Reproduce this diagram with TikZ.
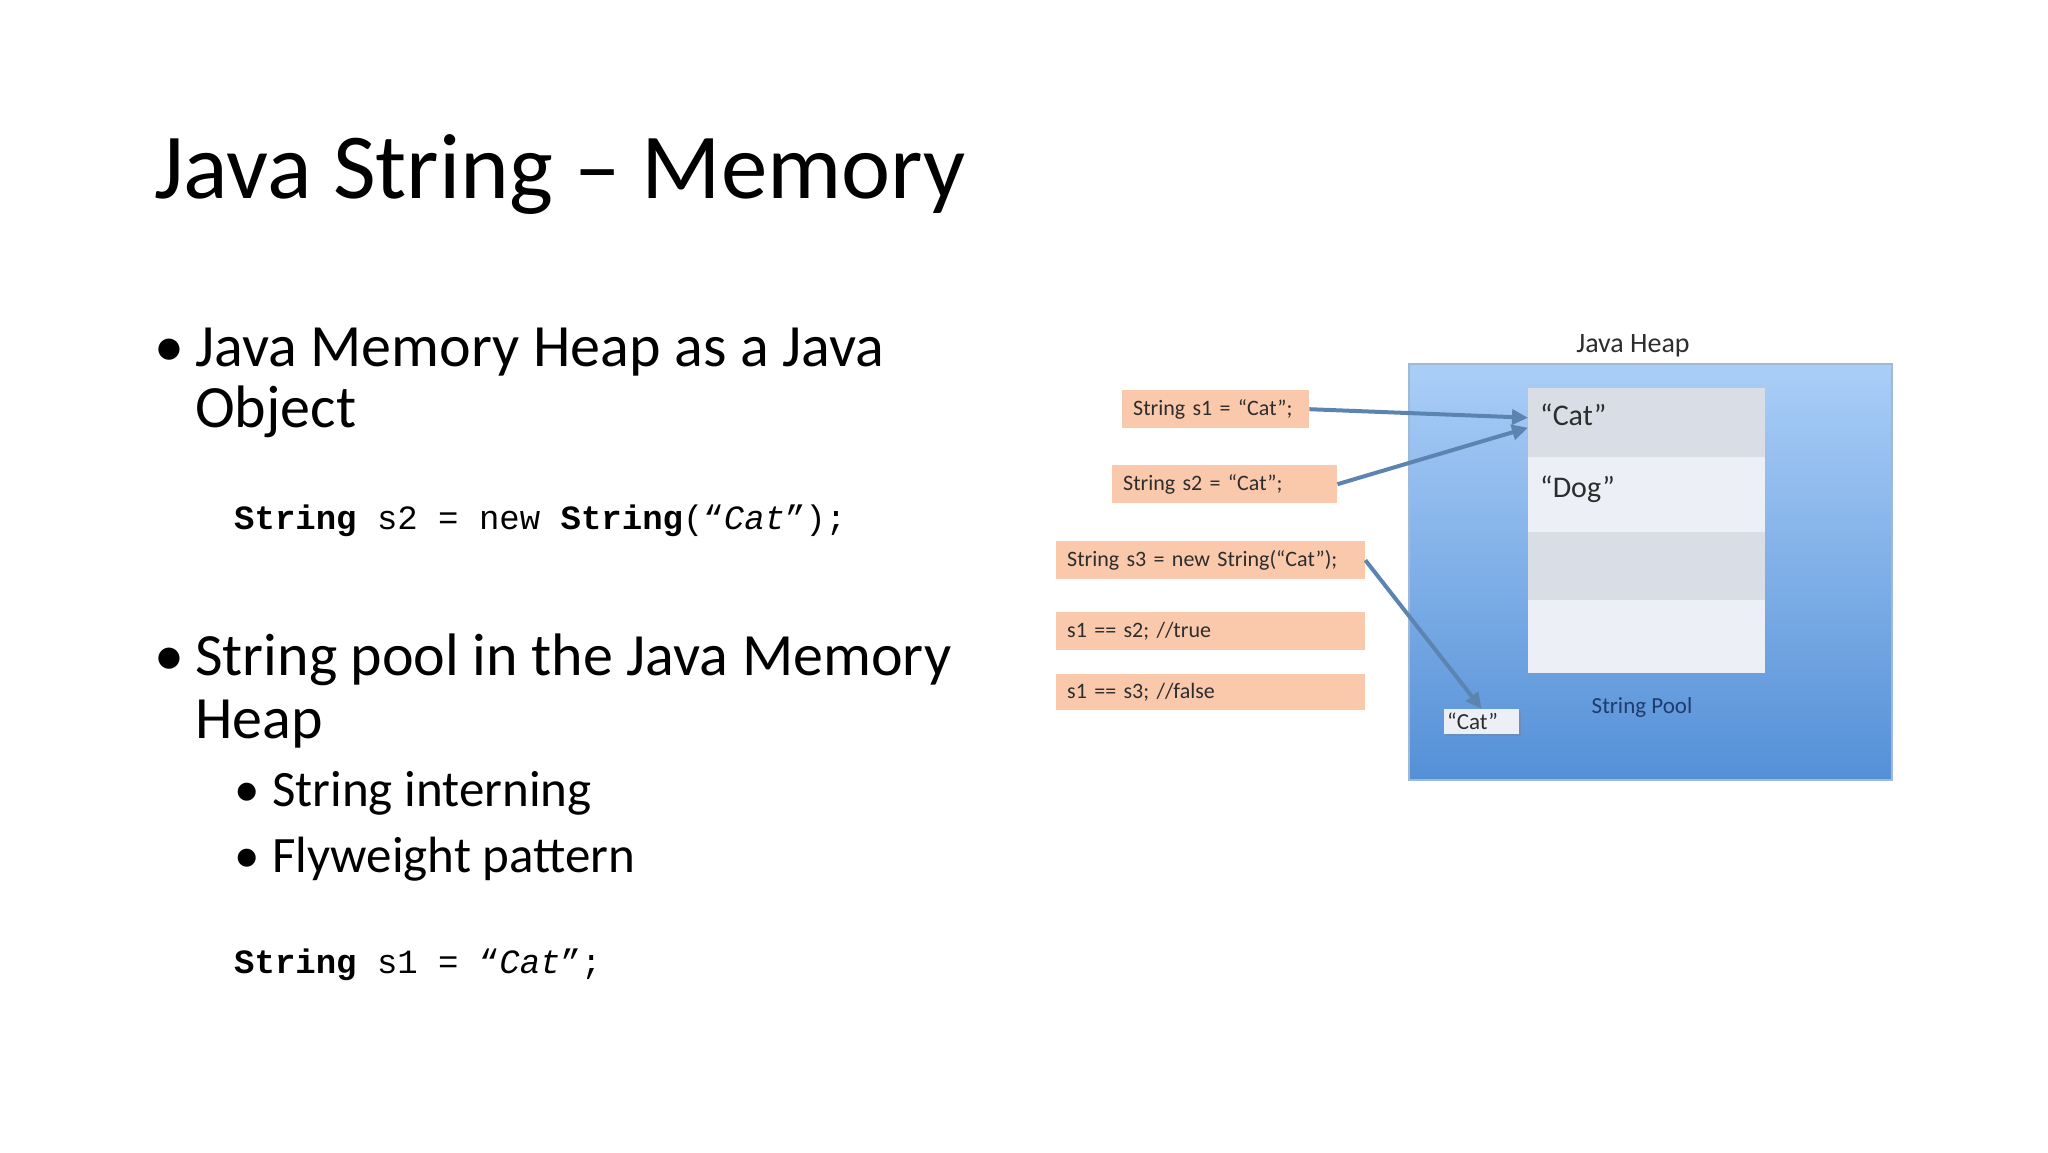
\documentclass[tikz,border=0pt]{standalone}
\usepackage{fontspec}
\setmainfont{Carlito}
\setmonofont{Liberation Mono}
\usetikzlibrary{arrows.meta,shadows}

\definecolor{peach}{RGB}{250,201,172}
\definecolor{heapTop}{RGB}{170,206,247}
\definecolor{heapBottom}{RGB}{84,144,215}
\definecolor{heapEdge}{RGB}{160,186,214}
\definecolor{rowDark}{RGB}{217,222,230}
\definecolor{rowLight}{RGB}{236,240,246}
\definecolor{refBlue}{RGB}{92,132,176}
\definecolor{poolText}{RGB}{30,60,108}
\definecolor{boxText}{RGB}{45,45,45}

\tikzset{
  slideText/.style={anchor=base west, inner sep=0pt},
  codeBox/.style={rectangle, fill=peach, anchor=north west, inner xsep=11pt, inner ysep=0pt, minimum height=38pt, align=left, text=boxText, font=\fontsize{22}{24}\selectfont},
  poolRow/.style={rectangle, anchor=north west, inner sep=0pt, minimum width=237pt},
  refArrow/.style={draw=refBlue, line width=4pt, -{Triangle[length=16pt,width=15pt]}}
}

\begin{document}
\begin{tikzpicture}[x=1pt,y=-1pt]
	\useasboundingbox (0,0) rectangle (2048,1152);
	\fill[white] (0,0) rectangle (2048,1152);

	% title and bullets
	\node[slideText, font=\fontsize{93}{100}\selectfont](title) at (154,198){Java String -- Memory};

	\node[slideText, font=\fontsize{60}{62}\selectfont](dot1) at (154,366){•};
	\node[slideText, font=\fontsize{60}{62}\selectfont](bullet1a) at (195,366){Java Memory Heap as a Java};
	\node[slideText, font=\fontsize{60}{62}\selectfont](bullet1b) at (195,427){Object};
	\node[slideText, font=\fontsize{34}{36}\selectfont\ttfamily](code1) at (234,529){\textbf{String} s2 = new \textbf{String}(“\textit{Cat}”);};

	\node[slideText, font=\fontsize{60}{62}\selectfont](dot2) at (154,675){•};
	\node[slideText, font=\fontsize{60}{62}\selectfont](bullet2a) at (195,675){String pool in the Java Memory};
	\node[slideText, font=\fontsize{60}{62}\selectfont](bullet2b) at (195,738){Heap};
	\node[slideText, font=\fontsize{51}{53}\selectfont](dot3) at (234,806){•};
	\node[slideText, font=\fontsize{51}{53}\selectfont](sub1) at (272,806){String interning};
	\node[slideText, font=\fontsize{51}{53}\selectfont](dot4) at (234,872){•};
	\node[slideText, font=\fontsize{51}{53}\selectfont](sub2) at (272,872){Flyweight pattern};
	\node[slideText, font=\fontsize{34}{36}\selectfont\ttfamily](code2) at (234,973){\textbf{String} s1 = “\textit{Cat}”;};

	% draw heap and pool
	\node[rectangle, anchor=north west, draw=heapEdge, line width=2pt, top color=heapTop, bottom color=heapBottom, minimum width=483pt, minimum height=416pt](heapBox) at (1408,363){};
	\node[anchor=base, inner sep=0pt, font=\fontsize{28}{30}\selectfont, text=boxText](heapLabel) at (1633,352){Java Heap};

	\node[poolRow, fill=rowDark, minimum height=69pt](catRow) at (1528,388){};
	\node[poolRow, fill=rowLight, minimum height=75pt](dogRow) at (1528,457){};
	\node[poolRow, fill=rowDark, minimum height=68pt](emptyRow1) at (1528,532){};
	\node[poolRow, fill=rowLight, minimum height=73pt](emptyRow2) at (1528,600){};
	\node[slideText, font=\fontsize{30}{32}\selectfont, text=boxText](catLabel) at (1540,425){“Cat”};
	\node[slideText, font=\fontsize{30}{32}\selectfont, text=boxText](dogLabel) at (1540,497){“Dog”};
	\node[anchor=base, inner sep=0pt, font=\fontsize{23}{25}\selectfont, text=poolText](poolLabel) at (1642,713){String Pool};

	\node[rectangle, anchor=north west, fill=rowLight, drop shadow={opacity=0.35, shadow xshift=2pt, shadow yshift=-2pt}, minimum height=25pt, text width=69pt, inner xsep=3pt, inner ysep=0pt, align=left, font=\fontsize{23}{24}\selectfont, text=boxText](catObj) at (1444,709){“Cat”};

	% draw code boxes
	\node[codeBox, text width=165pt](s1Box) at (1122,390){String s1 = “Cat”;};
	\node[codeBox, text width=203pt](s2Box) at (1112,465){String s2 = “Cat”;};
	\node[codeBox, text width=287pt](s3Box) at (1056,541){String s3 = new String(“Cat”);};
	\node[codeBox, text width=287pt](eq1Box) at (1056,612){s1 == s2; //true};
	\node[codeBox, text width=287pt, minimum height=36pt](eq2Box) at (1056,674){s1 == s3; //false};

	% references
	\draw[refArrow] (s1Box.east) -- ([yshift=5pt]catRow.west);
	\draw[refArrow] (s2Box.east) -- ([yshift=-5pt]catRow.west);
	\draw[refArrow] (s3Box.east) -- (catObj.north);
\end{tikzpicture}
\end{document}
